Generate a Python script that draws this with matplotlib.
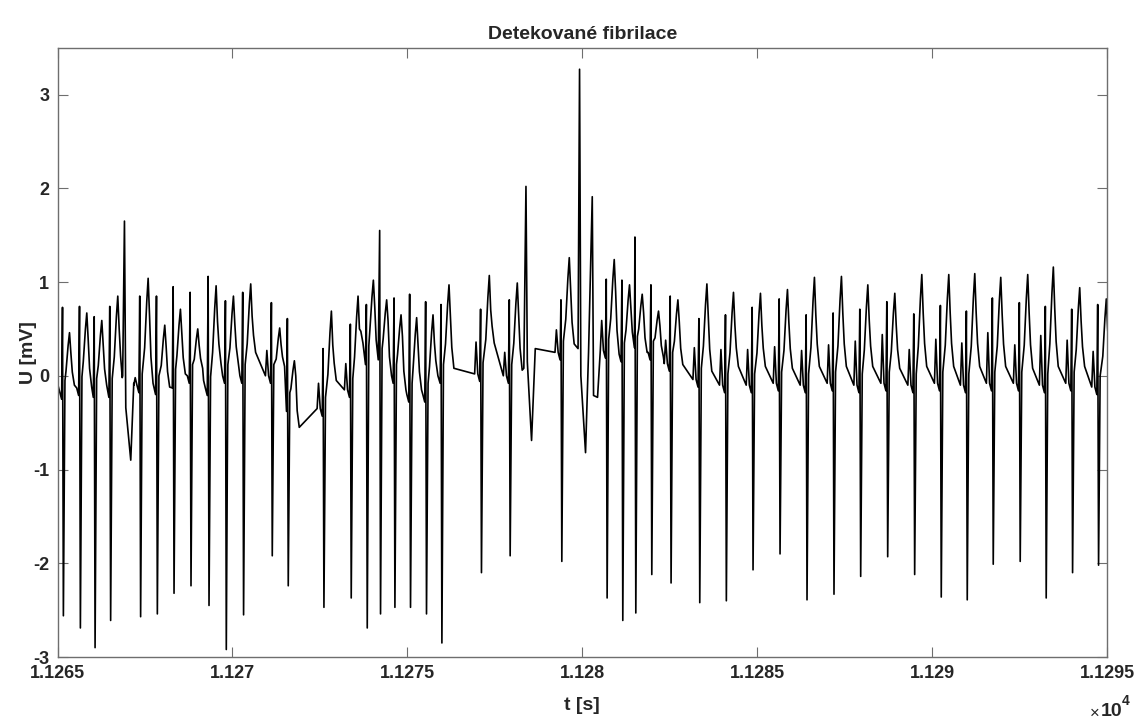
import matplotlib
matplotlib.use("Agg")
import matplotlib.pyplot as plt

# ECG keypoints (time in s, voltage in mV)
r_time = [11265.143, 11265.629, 11266.049, 11266.494, 11267.351, 11267.829, 11268.306,
          11268.791, 11269.306, 11269.800, 11270.294, 11271.114, 11271.571, 11272.591,
          11273.371, 11273.829, 11274.209, 11274.620, 11275.066, 11275.523, 11275.963,
          11277.094, 11277.914, 11279.391, 11280.686, 11281.134, 11281.506, 11281.963,
          11282.514, 11283.334, 11284.094, 11284.857, 11285.629, 11286.400, 11287.171,
          11287.934, 11288.706, 11289.477, 11290.237, 11290.980, 11291.723, 11292.494,
          11293.237, 11293.991, 11294.734]
r_peak = [0.73, 0.74, 0.63, 0.74, 0.85, 0.85, 0.95, 0.89, 1.06, 0.80, 0.89, 0.78, 0.61, 0.29,
          0.55, 0.76, 1.55, 0.83, 0.87, 0.79, 0.76, 0.71, 0.81, 0.81, 1.03, 1.02, 1.48, 0.97,
          0.85, 0.61, 0.65, 0.73, 0.82, 0.65, 0.67, 0.71, 0.79, 0.66, 0.75, 0.69, 0.83, 0.78,
          0.74, 0.71, 0.76]
s_trough = [-2.56, -2.69, -2.90, -2.61, -2.57, -2.54, -2.32, -2.24, -2.45, -2.92, -2.55, -1.92,
            -2.24, -2.47, -2.37, -2.69, -2.54, -2.47, -2.47, -2.54, -2.85, -2.10, -1.92, -1.98,
            -2.37, -2.61, -2.53, -2.12, -2.21, -2.42, -2.40, -2.07, -1.90, -2.39, -2.33, -2.14,
            -1.93, -2.12, -2.36, -2.39, -2.01, -1.98, -2.37, -2.10, -2.02]
t_time = [11265.343, 11265.837, 11266.266, 11266.723, 11267.591, 11268.066, 11268.514,
          11269.009, 11269.534, 11270.029, 11270.523, 11271.351, 11271.771, 11272.829,
          11273.591, 11274.029, 11274.409, 11274.820, 11275.266, 11275.734, 11276.191,
          11277.343, 11278.143, 11279.629, 11280.914, 11281.351, 11281.714, 11282.180,
          11282.734, 11283.563, 11284.323, 11285.094, 11285.866, 11286.637, 11287.409,
          11288.163, 11288.934, 11289.706, 11290.477, 11291.220, 11291.963, 11292.734,
          11293.466, 11294.220, 11294.980]
t_peak = [0.46, 0.67, 0.59, 0.85, 1.04, 0.54, 0.71, 0.50, 0.96, 0.85, 0.98, 0.51, 0.16, 0.69,
          0.85, 1.02, 0.81, 0.65, 0.62, 0.65, 0.97, 1.07, 0.99, 1.26, 1.24, 0.97, 0.87, 0.69,
          0.81, 0.98, 0.89, 0.88, 0.92, 1.05, 1.06, 0.97, 0.88, 1.08, 1.08, 1.09, 1.05, 1.08,
          1.16, 0.94, 0.82]
base_pre = [-0.17, -0.13, -0.15, -0.15, -0.10, -0.12, -0.05, 0.00, -0.13, 0.00, 0.00, 0.00,
            -0.30, -0.35, -0.15, 0.20, 0.17, 0.00, -0.20, -0.20, 0.00, 0.02, 0.00, 0.25,
            0.27, 0.23, 0.30, 0.25, 0.13, -0.04, -0.10, -0.10, -0.08, -0.10, -0.08, -0.10,
            -0.08, -0.10, -0.08, -0.10, -0.08, -0.08, -0.10, -0.08, -0.12]
base_post = [-0.10, -0.12, -0.10, 0.00, -0.08, -0.12, 0.02, 0.08, 0.13, 0.13, 0.25, 0.10,
             -0.55, -0.05, 0.35, 0.17, 0.00, -0.15, -0.15, 0.00, 0.08, 0.35, 0.06, 0.34,
             0.23, 0.30, 0.25, 0.20, 0.12, 0.05, 0.10, 0.10, 0.08, 0.10, 0.10, 0.10, 0.08,
             0.10, 0.10, 0.10, 0.10, 0.08, 0.10, 0.10, 0.10]
p_amp = [-0.10, -0.08, -0.08, -0.08, -0.02, -0.05, 0.05, 0.10, -0.05, 0.32, 0.30, 0.27,
         -0.20, -0.08, 0.13, 0.35, 0.17, 0.10, -0.10, -0.10, 0.10, 0.36, 0.25, 0.49,
         0.59, 0.30, 0.35, 0.30, 0.38, 0.30, 0.28, 0.28, 0.31, 0.27, 0.33, 0.37, 0.44,
         0.28, 0.39, 0.35, 0.46, 0.33, 0.43, 0.38, 0.26]

# ectopic / irregular segments that don't fit the beat pattern
extra_time = [11265.0, 11266.85, 11266.914, 11266.952, 11267.094, 11267.18,
              11278.33, 11278.391, 11278.43, 11278.551, 11278.657,
              11279.88, 11279.923, 11279.96, 11280.094, 11280.18, 11280.286, 11280.323,
              11280.437]
extra_value = [-0.19, -0.02, 1.65, -0.34, -0.90, -0.08,
               0.08, 2.02, 0.15, -0.69, 0.29,
               0.29, 3.27, 0.00, -0.82, 0.25, 1.91, -0.21,
               -0.23]

x_ticks = [11265, 11270, 11275, 11280, 11285, 11290, 11295]
x_tick_labels = ['1.1265', '1.127', '1.1275', '1.128', '1.1285', '1.129', '1.1295']
y_ticks = [-3, -2, -1, 0, 1, 2, 3]


def beat_points(i):
    tr, tt = r_time[i], t_time[i]
    b0, b1 = base_pre[i], base_post[i]
    amp = t_peak[i] - b0
    pts = [(tr - 0.17, b0), (tr - 0.13, p_amp[i]), (tr - 0.08, b0),
           (tr - 0.025, b0 - 0.08), (tr, r_peak[i]), (tr + 0.025, s_trough[i]),
           (tr + 0.07, b0 + 0.12),
           (tt - 0.10, b0 + 0.35 * amp), (tt - 0.04, b0 + 0.78 * amp), (tt, t_peak[i]),
           (tt + 0.04, b0 + 0.65 * amp), (tt + 0.08, b1 + 0.25 * (t_peak[i] - b1)),
           (tt + 0.14, b1)]
    return pts


def build_trace():
    pts = []
    last = -1e9
    for i in range(len(r_time)):
        bp = beat_points(i)
        # keep the R spike, drop template points that would run backwards
        core = [p for p in bp if p[0] > last + 0.02 or p[1] in (r_peak[i], s_trough[i])]
        mono = []
        for p in core:
            if not mono or p[0] > mono[-1][0]:
                mono.append(p)
        pts += mono
        last = mono[-1][0]
    pts += list(zip(extra_time, extra_value))
    pts.sort(key=lambda p: p[0])
    return [p[0] for p in pts], [p[1] for p in pts]


plt.rcParams['font.family'] = ['Liberation Sans', 'DejaVu Sans']
plt.rcParams['font.weight'] = 'bold'
plt.rcParams['axes.unicode_minus'] = False

fig = plt.figure(figsize=(11.36, 7.26), dpi=100)
ax = fig.add_axes([57.5 / 1136, 1 - 657 / 726, (1107 - 57.5) / 1136, (657 - 47.7) / 726])

t, u = build_trace()
ax.plot(t, u, color='black', linewidth=1.2)

ax.set_xlim(11265, 11295)
ax.set_ylim(-3, 3.5)
ax.set_xticks(x_ticks)
ax.set_xticklabels(x_tick_labels)
ax.set_yticks(y_ticks)

grey = '#262626'
for s in ax.spines.values():
    s.set_color('#6e6e6e')
    s.set_linewidth(1.0)
ax.tick_params(direction='in', top=True, right=True, length=7.5, width=0.8,
               color='#6e6e6e', labelsize=13, labelcolor=grey, pad=6)

ax.set_title('Detekované fibrilace', fontsize=14, fontweight='bold', color=grey, pad=6)
ax.set_xlabel('t [s]', fontsize=14, fontweight='bold', color=grey)
ax.xaxis.set_label_coords(0.5, -0.066)
ax.set_ylabel('U [mV]', fontsize=14, fontweight='bold', color=grey)
ax.yaxis.set_label_coords(-0.02, 0.5)

fig.text(1090 / 1136, 1 - 713 / 726, '×', fontsize=12, color=grey, fontweight='normal',
         va='center', ha='left')
fig.text(1101 / 1136, 1 - 712 / 726, '10', fontsize=14, color=grey, fontweight='bold',
         va='center', ha='left')
fig.text(1122 / 1136, 1 - 701 / 726, '4', fontsize=10, color=grey, fontweight='bold',
         va='center', ha='left')

fig.savefig('out.png', dpi=100)
